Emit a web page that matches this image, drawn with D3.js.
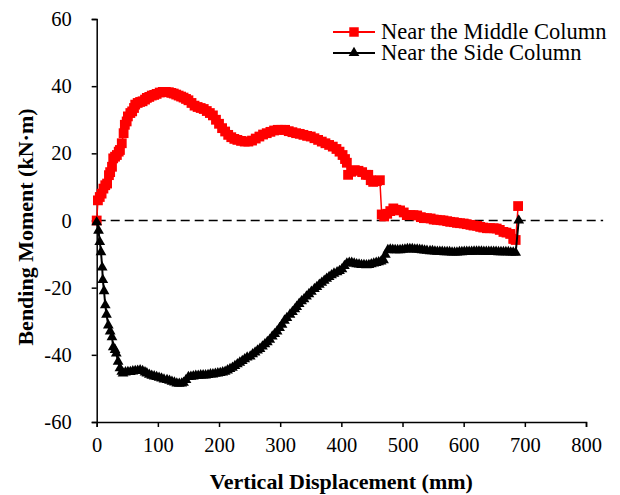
<!DOCTYPE html>
<html><head><meta charset="utf-8">
<script src="https://cdn.jsdelivr.net/npm/d3@7"></script>
<style>body{margin:0;background:#fff}svg{display:block}text{font-family:"Liberation Serif","Times New Roman",serif}</style>
</head><body><svg id="c" width="620" height="495"></svg>
<script>
const xTicks = [0,100,200,300,400,500,600,700,800];
const yTicks = [-60,-40,-20,0,20,40,60];
const seriesNames = ["Near the Middle Column","Near the Side Column"];
const zeroLineX = [0, 828];

const middleX = [0,2,5,8,11,14,17,20,22,25,27,30,33,36,38,41,44,46,49,51,55,58,61,63,67,71,75,79,82,86,90,94,98,103,108,113,118,122,126,130,134,138,142,146,150,155,160,165,170,175,180,185,190,195,200,205,210,215,220,225,230,236,242,248,254,260,266,272,278,284,290,296,302,308,314,320,326,332,338,344,350,356,362,368,374,380,386,392,397,402,406,409,411,416,422,428,434,440,444,448,452,458,463,466,470,475,480,485,490,496,502,507,513,518,524,530,535,540,546,551,556,562,567,573,578,584,589,594,600,605,611,616,622,627,632,638,643,649,654,659,665,670,676,681,685,689];
const middleY = [0,6,7,8,9.5,10.5,11,13.5,14.4,16,18.5,19,19.5,20.5,21,23,26,28.5,29.5,31,32,32.5,33.5,34.5,35,35.3,35.5,36,36.5,36.8,37.2,37.4,37.7,38.1,38.3,38.3,38.2,38,37.8,37.5,37.2,36.9,36.6,36.2,35.8,35,34.2,33.8,33.5,33.2,32.6,32,31.3,30,28.8,27.5,26.5,25.5,24.8,24.3,24,23.7,23.5,23.5,23.8,24.4,25,25.6,26,26.4,26.8,27,27,27,26.6,26.3,26,25.8,25.5,25.2,25,24.5,24,23.5,23,22.5,22,21.3,20.5,19.5,18.3,17.2,13.6,14.5,15,14.8,14.4,13.6,13.6,12,11.5,11.7,12,1.8,1.2,2,2.8,3.6,3.2,3,2.4,1.6,1.6,1.6,1.5,1,0.7,0.7,0.6,0.3,0.2,0.1,0,-0.2,-0.4,-0.5,-0.7,-0.8,-0.9,-1.1,-1.3,-1.5,-1.6,-1.9,-2.1,-2.3,-2.3,-2.3,-2.4,-2.8,-3.4,-3.6,-4.0,-5.5,-5.8,4.3];

const sideX = [0,3,5,7,9,10,12,14,16,19,22,25,27,30,32,35,38,41,43,47,51,55,59,63,67,71,75,79,82,86,90,94,98,102,106,110,115,119,123,127,131,135,139,142,146,150,154,158,162,166,170,174,178,182,186,190,194,198,202,206,210,214,218,222,226,230,234,238,242,246,251,255,259,263,267,271,275,279,283,287,291,295,299,303,307,311,316,320,324,327,331,335,339,343,347,351,356,360,364,368,372,376,380,384,388,393,397,401,405,409,413,417,421,425,429,433,437,441,445,449,453,457,461,465,469,472,476,480,484,488,492,496,500,504,508,512,516,520,524,528,532,536,540,545,549,553,557,561,565,569,573,577,581,585,589,593,597,601,605,609,613,617,621,625,629,633,637,641,645,649,653,657,661,665,669,673,677,681,685,690];
const sideY = [-0.5,-3,-6.4,-9.4,-14,-17.7,-21,-25.2,-28,-31.2,-33,-34.7,-37.7,-38.5,-39.6,-42,-44,-45,-45.5,-45.2,-45.1,-45.1,-44.9,-44.8,-44.7,-44.6,-44.8,-45.2,-45.5,-45.9,-46.2,-46.4,-46.6,-46.8,-47,-47.3,-47.5,-47.7,-48,-48.2,-48.5,-48.6,-48.5,-48.3,-47.5,-46.6,-46.5,-46.4,-46.2,-46.2,-46.1,-46.1,-46.1,-46,-45.8,-45.8,-45.6,-45.5,-45.4,-45.2,-45,-44.6,-44.2,-43.8,-43.3,-42.8,-42.3,-41.8,-41.3,-40.8,-40.5,-39.8,-39.3,-38.7,-38.2,-37.5,-36.8,-36.2,-35.5,-34.5,-33.8,-33,-32,-31,-29.8,-29,-28,-27.2,-26.4,-25.7,-24.8,-24,-23.4,-22.6,-21.9,-21.2,-20.4,-19.8,-19.1,-18.5,-17.9,-17.3,-16.8,-16.3,-15.8,-15.4,-15,-14.5,-13.5,-12.8,-12.6,-12.6,-12.8,-13,-13.1,-13.2,-13.2,-13.3,-13.2,-13,-12.8,-12.6,-12.4,-12.2,-11.8,-10.2,-8.8,-8.6,-8.7,-8.8,-8.8,-8.8,-8.7,-8.6,-8.5,-8.5,-8.5,-8.6,-8.6,-8.7,-8.8,-8.9,-9,-9.1,-9.1,-9.2,-9.3,-9.3,-9.3,-9.4,-9.4,-9.4,-9.5,-9.5,-9.5,-9.4,-9.4,-9.3,-9.3,-9.3,-9.3,-9.2,-9.2,-9.2,-9.2,-9.3,-9.3,-9.3,-9.3,-9.3,-9.3,-9.4,-9.4,-9.4,-9.4,-9.4,-9.5,-9.5,-9.6,0];

const svg = d3.select("#c");
const x = d3.scaleLinear().domain([0,800]).range([96.7,586]);
const y = d3.scaleLinear().domain([-60,60]).range([422,19]);

const gx = svg.append("g").attr("transform",`translate(0,${y(-60)})`)
  .call(d3.axisBottom(x).tickValues(xTicks).tickSize(5).tickPadding(10).tickFormat(d3.format("d")));
const gy = svg.append("g").attr("transform",`translate(${x(0)},0)`)
  .call(d3.axisLeft(y).tickValues(yTicks).tickSize(5).tickPadding(20).tickFormat(d3.format("d")));
[gx,gy].forEach(g=>{
  g.select(".domain").attr("stroke","#000").attr("stroke-width",1.5);
  g.selectAll(".tick line").attr("stroke","#000").attr("stroke-width",1.5);
  g.selectAll("text").attr("font-size",20.5).attr("fill","#000").attr("font-family","Liberation Serif");
});
gy.selectAll(".tick text").text(d=>d<0?"-"+Math.abs(d):d);

svg.append("line").attr("x1",x(zeroLineX[0])).attr("x2",x(zeroLineX[1]))
  .attr("y1",y(0)).attr("y2",y(0)).attr("stroke","#000").attr("stroke-width",1.3).attr("stroke-dasharray","9,5");

const line = d3.line().x(d=>x(d[0])).y(d=>y(d[1]));
const mid = middleX.map((v,i)=>[v,middleY[i]]);
const side = sideX.map((v,i)=>[v,sideY[i]]);

svg.append("path").datum(mid).attr("d",line).attr("fill","none").attr("stroke","#ff0000").attr("stroke-width",1.5);
svg.append("g").selectAll("path").data(mid).join("path")
  .attr("d",d3.symbol(d3.symbolSquare,96)).attr("transform",d=>`translate(${x(d[0])},${y(d[1])})`).attr("fill","#ff0000");

svg.append("path").datum(side).attr("d",line).attr("fill","none").attr("stroke","#000").attr("stroke-width",2);
svg.append("g").selectAll("path").data(side).join("path")
  .attr("d",d3.symbol(d3.symbolTriangle,50)).attr("transform",d=>`translate(${x(d[0])},${y(d[1])})`).attr("fill","#000");

const leg = svg.append("g");
const colors = ["#ff0000","#000"];
const syms = [d3.symbol(d3.symbolSquare,90)(), d3.symbol(d3.symbolTriangle,50)()];
seriesNames.forEach((n,i)=>{
  const ly = 32 + i*21;
  leg.append("line").attr("x1",333).attr("x2",375).attr("y1",ly).attr("y2",ly).attr("stroke",colors[i]).attr("stroke-width",2);
  leg.append("path").attr("d",syms[i]).attr("transform",`translate(354,${ly})`).attr("fill",colors[i]);
  leg.append("text").attr("x",381).attr("y",ly+7).attr("font-size",22.5).attr("fill","#000").text(n);
});

svg.append("text").attr("x",(x(0)+x(800))/2).attr("y",489).attr("text-anchor","middle")
  .attr("font-size",22).attr("font-weight","bold").text("Vertical Displacement (mm)");
svg.append("text").attr("transform","translate(33,227) rotate(-90)").attr("text-anchor","middle")
  .attr("font-size",22).attr("font-weight","bold").text("Bending Moment (kN·m)");
</script></body></html>
